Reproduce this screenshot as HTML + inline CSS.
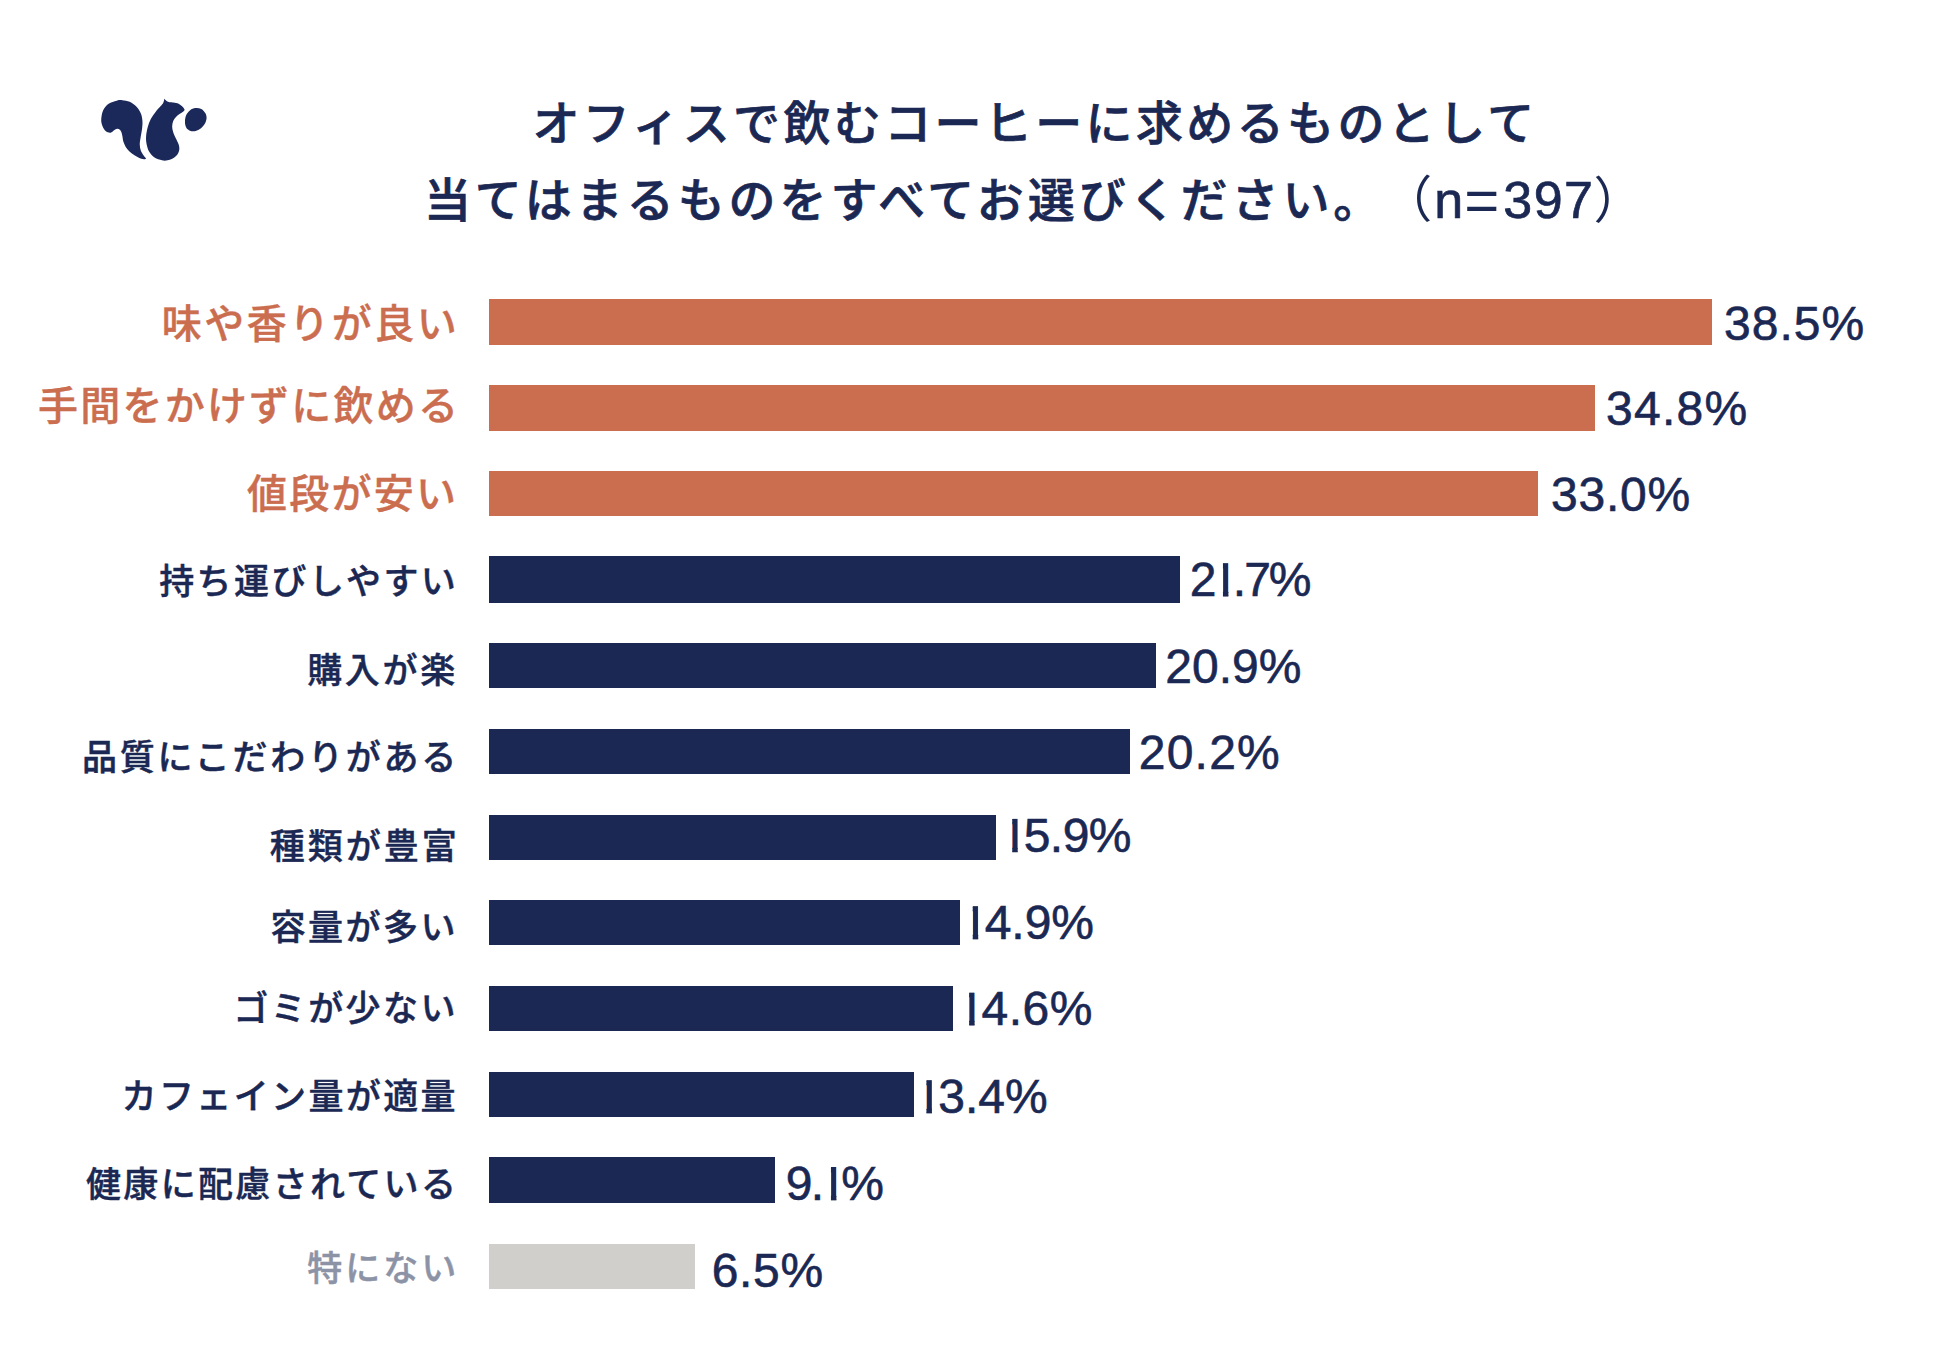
<!DOCTYPE html>
<html lang="ja"><head><meta charset="utf-8"><title>オフィスで飲むコーヒーに求めるもの</title>
<style>
html,body{margin:0;padding:0;background:#fff;}
body{width:1936px;height:1350px;position:relative;overflow:hidden;font-family:"Liberation Sans","Noto Sans CJK JP",sans-serif;}
.t{position:absolute;white-space:nowrap;line-height:1;}
.s{position:relative;line-height:0;}
.b{position:absolute;}
svg{position:absolute;}
.o{display:inline-block;margin-left:-0.063em;margin-right:-0.07em;-webkit-text-stroke:1.2px #1a2853;clip-path:polygon(0.239em 0.152em,0.3523em 0.152em,0.3523em 0.853em,0.239em 0.853em);}
</style></head><body>

<svg style="left:95px;top:90px" width="120" height="80" viewBox="0 0 1936 1291"><g fill="#1b295a">
<path d="M825.0 1105.0 C819.2 1107.2 810.8 1120.5 790.0 1118.0 C769.2 1115.5 731.7 1104.7 700.0 1090.0 C668.3 1075.3 631.7 1055.0 600.0 1030.0 C568.3 1005.0 533.3 971.7 510.0 940.0 C486.7 908.3 471.3 872.5 460.0 840.0 C448.7 807.5 447.7 771.7 442.0 745.0 C436.3 718.3 433.0 697.5 426.0 680.0 C419.0 662.5 410.7 649.0 400.0 640.0 C389.3 631.0 375.3 625.7 362.0 626.0 C348.7 626.3 332.8 635.0 320.0 642.0 C307.2 649.0 298.3 660.0 285.0 668.0 C271.7 676.0 259.2 691.0 240.0 690.0 C220.8 689.0 190.0 680.3 170.0 662.0 C150.0 643.7 131.7 610.3 120.0 580.0 C108.3 549.7 98.3 521.7 100.0 480.0 C101.7 438.3 110.0 373.0 130.0 330.0 C150.0 287.0 183.3 248.3 220.0 222.0 C256.7 195.7 313.3 181.5 350.0 172.0 C386.7 162.5 405.0 162.0 440.0 165.0 C475.0 168.0 521.7 172.5 560.0 190.0 C598.3 207.5 640.0 238.3 670.0 270.0 C700.0 301.7 724.2 341.7 740.0 380.0 C755.8 418.3 761.7 460.0 765.0 500.0 C768.3 540.0 764.7 576.7 760.0 620.0 C755.3 663.3 743.3 716.7 737.0 760.0 C730.7 803.3 721.5 843.3 722.0 880.0 C722.5 916.7 729.5 950.8 740.0 980.0 C750.5 1009.2 770.8 1034.2 785.0 1055.0 C799.2 1075.8 818.3 1096.7 825.0 1105.0 Z"/>
<path d="M1120.0 140.0 C1125.0 145.3 1138.3 162.8 1150.0 172.0 C1161.7 181.2 1173.3 190.3 1190.0 195.0 C1206.7 199.7 1240.0 199.2 1250.0 200.0 C1263.3 202.5 1305.0 205.0 1330.0 215.0 C1355.0 225.0 1381.7 245.0 1400.0 260.0 C1418.3 275.0 1432.8 294.2 1440.0 305.0 C1447.2 315.8 1446.3 317.5 1443.0 325.0 C1439.7 332.5 1432.2 340.0 1420.0 350.0 C1407.8 360.0 1388.3 371.7 1370.0 385.0 C1351.7 398.3 1328.0 410.8 1310.0 430.0 C1292.0 449.2 1272.8 473.3 1262.0 500.0 C1251.2 526.7 1245.0 560.0 1245.0 590.0 C1245.0 620.0 1251.2 646.7 1262.0 680.0 C1272.8 713.3 1295.3 756.7 1310.0 790.0 C1324.7 823.3 1341.7 851.7 1350.0 880.0 C1358.3 908.3 1363.3 933.3 1360.0 960.0 C1356.7 986.7 1346.7 1016.7 1330.0 1040.0 C1313.3 1063.3 1286.7 1084.2 1260.0 1100.0 C1233.3 1115.8 1200.0 1129.2 1170.0 1135.0 C1140.0 1140.8 1115.0 1142.5 1080.0 1135.0 C1045.0 1127.5 995.0 1114.2 960.0 1090.0 C925.0 1065.8 891.7 1028.3 870.0 990.0 C848.3 951.7 837.5 901.7 830.0 860.0 C822.5 818.3 821.7 783.3 825.0 740.0 C828.3 696.7 837.5 645.0 850.0 600.0 C862.5 555.0 878.3 511.7 900.0 470.0 C921.7 428.3 953.3 385.0 980.0 350.0 C1006.7 315.0 1040.0 283.3 1060.0 260.0 C1080.0 236.7 1091.3 224.7 1100.0 210.0 C1108.7 195.3 1108.7 183.7 1112.0 172.0 C1115.3 160.3 1118.7 145.3 1120.0 140.0 Z"/>
<path d="M1452.0 500.0 C1454.0 471.7 1458.2 434.2 1472.0 405.0 C1485.8 375.8 1510.3 344.2 1535.0 325.0 C1559.7 305.8 1590.0 293.3 1620.0 290.0 C1650.0 286.7 1688.0 290.8 1715.0 305.0 C1742.0 319.2 1767.8 350.0 1782.0 375.0 C1796.2 400.0 1801.7 426.7 1800.0 455.0 C1798.3 483.3 1787.8 517.5 1772.0 545.0 C1756.2 572.5 1729.5 600.8 1705.0 620.0 C1680.5 639.2 1650.0 652.7 1625.0 660.0 C1600.0 667.3 1576.7 668.2 1555.0 664.0 C1533.3 659.8 1510.8 649.8 1495.0 635.0 C1479.2 620.2 1467.2 597.5 1460.0 575.0 C1452.8 552.5 1450.0 528.3 1452.0 500.0 Z"/>
</g></svg>

<div class="t" id="t1" style="-webkit-text-stroke:0.70px #1a2853;left:532.50px;top:99.50px;font-size:47.00px;letter-spacing:3.368px;color:#1a2853;font-weight:500">オフィスで飲むコーヒーに求めるものとして</div>
<div class="t" id="t2" style="-webkit-text-stroke:0.70px #1a2853;left:423.90px;top:176.60px;font-size:47.00px;letter-spacing:3.944px;color:#1a2853;font-weight:500">当てはまるものをすべてお選びください。<span class="s" id="t3" style="-webkit-text-stroke:0.00px #1a2853;left:23.00px;top:0.00px;font-size:50.00px;letter-spacing:0.000px;font-weight:400">（</span><span class="s" id="t4" style="-webkit-text-stroke:0.70px #1a2853;left:25.00px;top:1.00px;font-size:52.00px;letter-spacing:0.000px;font-weight:400">n</span><span class="s" id="t6" style="-webkit-text-stroke:0.00px #1a2853;left:26.00px;top:4.00px;font-size:60.00px;letter-spacing:0.000px;font-weight:400">=</span><span class="s" id="t7" style="-webkit-text-stroke:0.70px #1a2853;left:30.00px;top:1.00px;font-size:52.00px;letter-spacing:1.500px;font-weight:400">397</span><span class="s" id="t5" style="-webkit-text-stroke:0.00px #1a2853;left:29.00px;top:1.00px;font-size:50.00px;letter-spacing:0.000px;font-weight:400">）</span></div>
<div class="b" style="left:488.9px;top:299.2px;width:1222.9px;height:45.8px;background:#cb6d4f"></div>
<div class="t" id="l0" style="-webkit-text-stroke:0.40px #cb6d4f;left:161.70px;top:303.80px;font-size:40.00px;letter-spacing:2.500px;color:#cb6d4f;font-weight:500">味や香りが良い</div>
<div class="t" id="v0" style="-webkit-text-stroke:0.60px #1a2853;left:1724.00px;top:299.80px;font-size:48.00px;letter-spacing:1.000px;color:#1a2853;font-weight:400">38.5%</div>
<div class="b" style="left:488.9px;top:385.0px;width:1106.3px;height:45.6px;background:#cb6d4f"></div>
<div class="t" id="l1" style="-webkit-text-stroke:0.40px #cb6d4f;left:38.00px;top:385.70px;font-size:40.00px;letter-spacing:2.222px;color:#cb6d4f;font-weight:500">手間をかけずに飲める</div>
<div class="t" id="v1" style="-webkit-text-stroke:0.60px #1a2853;left:1606.00px;top:385.10px;font-size:48.00px;letter-spacing:1.250px;color:#1a2853;font-weight:400">34.8%</div>
<div class="b" style="left:488.9px;top:471.0px;width:1049.1px;height:45.0px;background:#cb6d4f"></div>
<div class="t" id="l2" style="-webkit-text-stroke:0.40px #cb6d4f;left:246.90px;top:473.60px;font-size:40.00px;letter-spacing:2.250px;color:#cb6d4f;font-weight:500">値段が安い</div>
<div class="t" id="v2" style="-webkit-text-stroke:0.60px #1a2853;left:1551.00px;top:471.00px;font-size:48.00px;letter-spacing:0.750px;color:#1a2853;font-weight:400">33.0%</div>
<div class="b" style="left:488.9px;top:556.2px;width:690.9px;height:46.5px;background:#1a2853"></div>
<div class="t" id="l3" style="-webkit-text-stroke:0.45px #1a2853;left:159.20px;top:563.80px;font-size:35.00px;letter-spacing:2.429px;color:#1a2853;font-weight:500">持ち運びしやすい</div>
<div class="t" id="v3" style="-webkit-text-stroke:0.60px #1a2853;left:1189.80px;top:556.00px;font-size:48.00px;letter-spacing:-2.000px;color:#1a2853;font-weight:400">2<span class="o">1</span>.7%</div>
<div class="b" style="left:488.9px;top:642.6px;width:666.7px;height:45.8px;background:#1a2853"></div>
<div class="t" id="l4" style="-webkit-text-stroke:0.45px #1a2853;left:307.20px;top:652.90px;font-size:35.00px;letter-spacing:2.667px;color:#1a2853;font-weight:500">購入が楽</div>
<div class="t" id="v4" style="-webkit-text-stroke:0.60px #1a2853;left:1165.30px;top:643.30px;font-size:48.00px;letter-spacing:0.000px;color:#1a2853;font-weight:400">20.9%</div>
<div class="b" style="left:488.9px;top:728.8px;width:641.0px;height:45.0px;background:#1a2853"></div>
<div class="t" id="l5" style="-webkit-text-stroke:0.45px #1a2853;left:82.00px;top:740.30px;font-size:35.00px;letter-spacing:2.778px;color:#1a2853;font-weight:500">品質にこだわりがある</div>
<div class="t" id="v5" style="-webkit-text-stroke:0.60px #1a2853;left:1138.70px;top:729.30px;font-size:48.00px;letter-spacing:1.250px;color:#1a2853;font-weight:400">20.2%</div>
<div class="b" style="left:488.9px;top:814.6px;width:506.9px;height:45.4px;background:#1a2853"></div>
<div class="t" id="l6" style="-webkit-text-stroke:0.45px #1a2853;left:269.70px;top:829.20px;font-size:35.00px;letter-spacing:3.000px;color:#1a2853;font-weight:500">種類が豊富</div>
<div class="t" id="v6" style="-webkit-text-stroke:0.60px #1a2853;left:1003.80px;top:811.50px;font-size:48.00px;letter-spacing:-0.500px;color:#1a2853;font-weight:400"><span class="o">1</span>5.9%</div>
<div class="b" style="left:488.9px;top:900.2px;width:471.3px;height:45.0px;background:#1a2853"></div>
<div class="t" id="l7" style="-webkit-text-stroke:0.45px #1a2853;left:270.40px;top:910.00px;font-size:35.00px;letter-spacing:2.500px;color:#1a2853;font-weight:500">容量が多い</div>
<div class="t" id="v7" style="-webkit-text-stroke:0.60px #1a2853;left:964.30px;top:898.90px;font-size:48.00px;letter-spacing:-0.000px;color:#1a2853;font-weight:400"><span class="o">1</span>4.9%</div>
<div class="b" style="left:488.9px;top:986.0px;width:463.8px;height:44.8px;background:#1a2853"></div>
<div class="t" id="l8" style="-webkit-text-stroke:0.45px #1a2853;left:233.40px;top:991.30px;font-size:35.00px;letter-spacing:2.400px;color:#1a2853;font-weight:500">ゴミが少ない</div>
<div class="t" id="v8" style="-webkit-text-stroke:0.60px #1a2853;left:960.70px;top:985.40px;font-size:48.00px;letter-spacing:0.500px;color:#1a2853;font-weight:400"><span class="o">1</span>4.6%</div>
<div class="b" style="left:488.9px;top:1072.0px;width:425.5px;height:44.8px;background:#1a2853"></div>
<div class="t" id="l9" style="-webkit-text-stroke:0.45px #1a2853;left:121.50px;top:1079.00px;font-size:35.00px;letter-spacing:2.375px;color:#1a2853;font-weight:500">カフェイン量が適量</div>
<div class="t" id="v9" style="-webkit-text-stroke:0.60px #1a2853;left:918.00px;top:1072.90px;font-size:48.00px;letter-spacing:0.000px;color:#1a2853;font-weight:400"><span class="o">1</span>3.4%</div>
<div class="b" style="left:488.9px;top:1157.0px;width:286.6px;height:46.1px;background:#1a2853"></div>
<div class="t" id="l10" style="-webkit-text-stroke:0.45px #1a2853;left:86.00px;top:1166.90px;font-size:35.00px;letter-spacing:2.333px;color:#1a2853;font-weight:500">健康に配慮されている</div>
<div class="t" id="v10" style="-webkit-text-stroke:0.60px #1a2853;left:785.80px;top:1159.70px;font-size:48.00px;letter-spacing:-1.667px;color:#1a2853;font-weight:400">9.<span class="o">1</span>%</div>
<div class="b" style="left:488.9px;top:1244.1px;width:206.1px;height:44.7px;background:#d0cfcc"></div>
<div class="t" id="l11" style="-webkit-text-stroke:0.45px #8d93a6;left:307.20px;top:1250.60px;font-size:35.00px;letter-spacing:3.000px;color:#8d93a6;font-weight:500">特にない</div>
<div class="t" id="v11" style="-webkit-text-stroke:0.60px #1a2853;left:711.70px;top:1247.00px;font-size:48.00px;letter-spacing:0.667px;color:#1a2853;font-weight:400">6.5%</div>
</body></html>
